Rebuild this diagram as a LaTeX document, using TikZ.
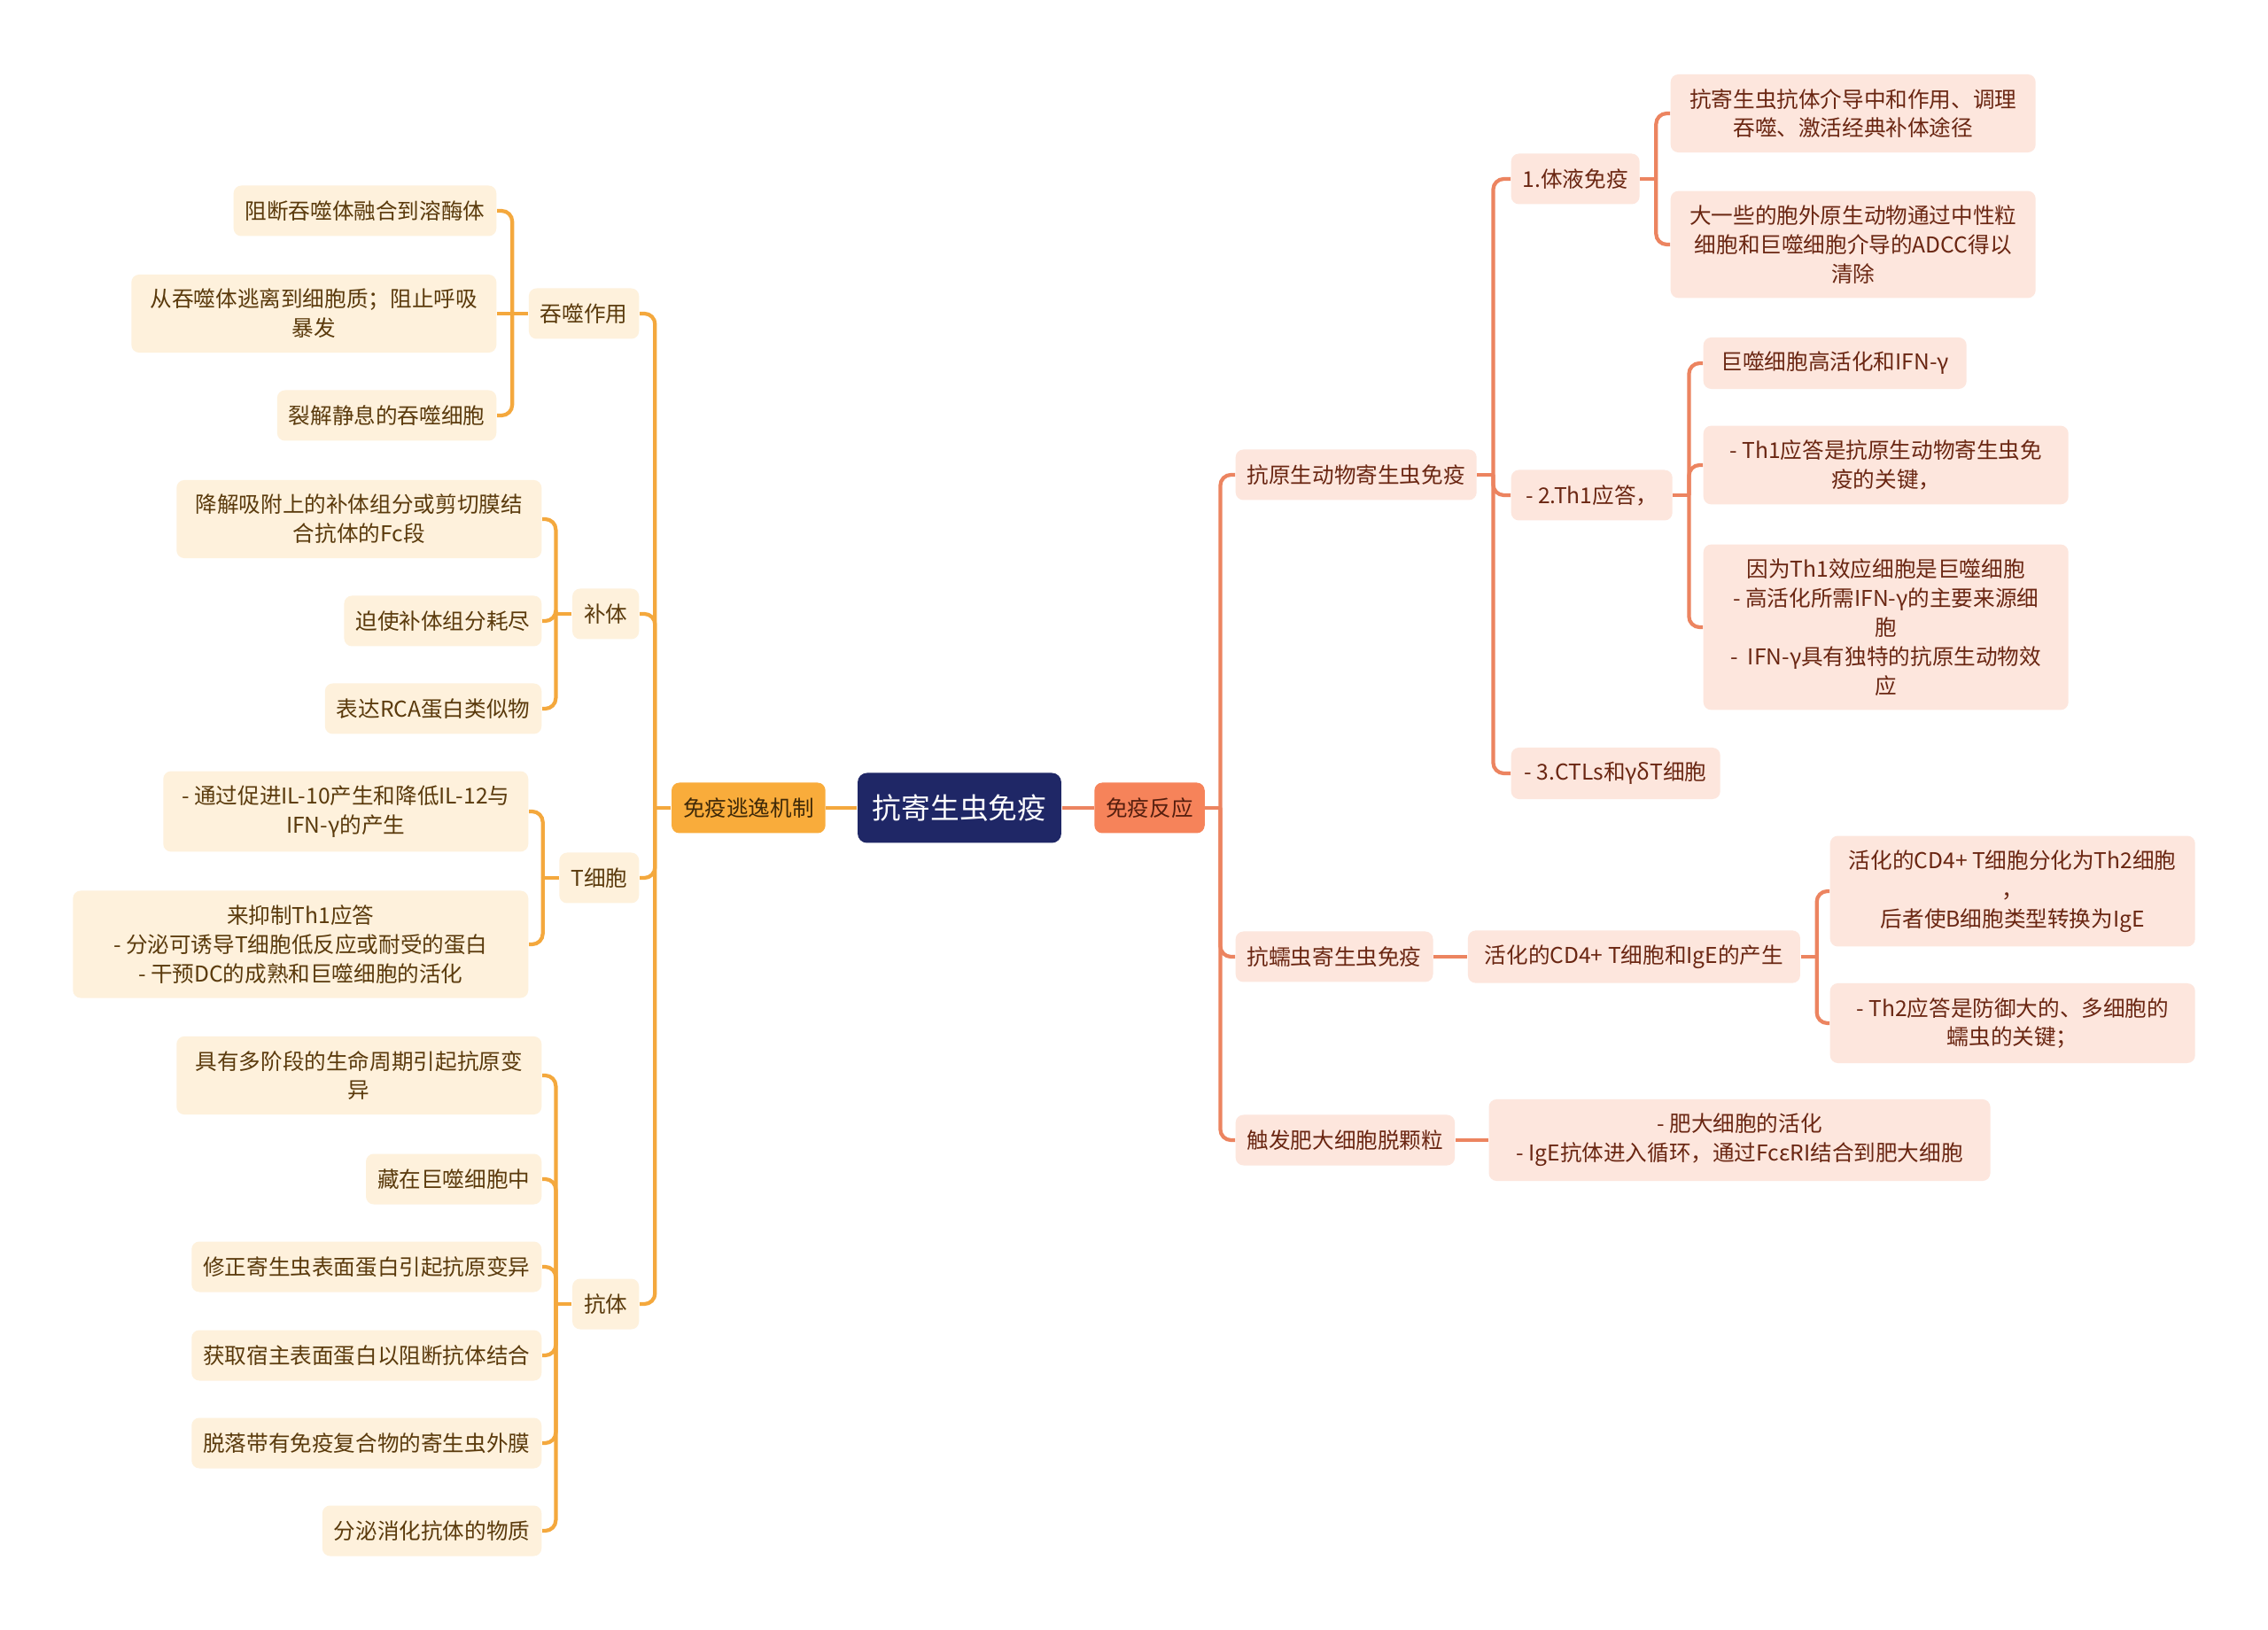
\documentclass[tikz,border=0pt]{standalone}
\usepackage{fontspec}
\setmainfont{Noto Sans CJK SC}
\usepackage{xcolor}
\usetikzlibrary{positioning}

\definecolor{rootblue}{HTML}{1F2766}
\definecolor{escorange}{HTML}{F9AC3B}
\definecolor{esclight}{HTML}{FEF1DC}
\definecolor{esctext}{HTML}{5A3A0C}
\definecolor{escline}{HTML}{F4A83D}
\definecolor{respcoral}{HTML}{F6835A}
\definecolor{resplight}{HTML}{FDE6DD}
\definecolor{resptext}{HTML}{6A2612}
\definecolor{respline}{HTML}{EC8460}

\begin{document}
\begin{tikzpicture}[
    x=1cm, y=1cm,
    node distance=0.18cm,
    root/.style={
        rectangle,
        fill=rootblue,
        text=white,
        rounded corners=3pt,
        inner xsep=4.8pt,
        minimum height=0.79cm,
        font=\fontsize{9.3pt}{11pt}\selectfont
    },
    topic/.style={
        rectangle,
        rounded corners=2.5pt,
        align=center,
        inner xsep=0.13cm,
        inner ysep=4.6pt,
        minimum height=0.57cm,
        font=\fontsize{7pt}{9.35pt}\selectfont
    },
    escmain/.style={topic, fill=escorange, text=esctext!70!black},
    respmain/.style={topic, fill=respcoral, text=resptext!80!black},
    escnode/.style={topic, fill=esclight, text=esctext},
    respnode/.style={topic, fill=resplight, text=resptext},
    wide/.style={minimum width=4.12cm},
    escwire/.style={draw=escline, line width=1.2pt, rounded corners=0.12cm},
    respwire/.style={draw=respline, line width=1.2pt, rounded corners=0.12cm}
]

\fill[white] (0,0) rectangle (25.6,-18.4);

\node[root] (root) at (10.83,-9.12) {抗寄生虫免疫};
\node[escmain, left=0.35cm of root] (escape) {免疫逃逸机制};
\node[respmain, right=0.36cm of root] (resp) {免疫反应};

% escape side
\node[escnode, anchor=east] (phago) at (7.22,-3.54) {吞噬作用};
\node[escnode, anchor=east] (compl) at (7.22,-6.93) {补体};
\node[escnode, anchor=east] (tcell) at (7.22,-9.91) {T细胞};
\node[escnode, anchor=east] (antib) at (7.22,-14.72) {抗体};

\node[escnode, anchor=east] (phagoa) at (5.61,-2.38) {阻断吞噬体融合到溶酶体};
\node[escnode, wide, anchor=east] (phagob) at (5.61,-3.54) {从吞噬体逃离到细胞质；阻止呼吸\\暴发};
\node[escnode, anchor=east] (phagoc) at (5.61,-4.69) {裂解静息的吞噬细胞};

\node[escnode, wide, anchor=east] (compla) at (6.12,-5.86) {降解吸附上的补体组分或剪切膜结\\合抗体的Fc段};
\node[escnode, anchor=east] (complb) at (6.12,-7.01) {迫使补体组分耗尽};
\node[escnode, anchor=east] (complc) at (6.12,-8.00) {表达RCA蛋白类似物};

\node[escnode, wide, anchor=east] (tcella) at (5.97,-9.16) {- 通过促进IL-10产生和降低IL-12与\\IFN-γ的产生};
\node[escnode, minimum width=5.14cm, anchor=east] (tcellb) at (5.97,-10.66) {来抑制Th1应答\\- 分泌可诱导T细胞低反应或耐受的蛋白\\- 干预DC的成熟和巨噬细胞的活化};

\node[escnode, wide, anchor=east] (antiba) at (6.12,-12.14) {具有多阶段的生命周期引起抗原变\\异};
\node[escnode, anchor=east] (antibb) at (6.12,-13.31) {藏在巨噬细胞中};
\node[escnode, anchor=east] (antibc) at (6.12,-14.30) {修正寄生虫表面蛋白引起抗原变异};
\node[escnode, anchor=east] (antibd) at (6.12,-15.30) {获取宿主表面蛋白以阻断抗体结合};
\node[escnode, anchor=east] (antibe) at (6.12,-16.29) {脱落带有免疫复合物的寄生虫外膜};
\node[escnode, anchor=east] (antibf) at (6.12,-17.28) {分泌消化抗体的物质};

% response side
\node[respnode, anchor=west] (proto) at (13.94,-5.36) {抗原生动物寄生虫免疫};
\node[respnode, anchor=west] (helm) at (13.94,-10.80) {抗蠕虫寄生虫免疫};
\node[respnode, anchor=west] (mast) at (13.94,-12.87) {触发肥大细胞脱颗粒};

\node[respnode, anchor=west] (humor) at (17.05,-2.02) {1.体液免疫};
\node[respnode, minimum width=1.82cm, anchor=west] (thone) at (17.05,-5.59) {- 2.Th1应答，};
\node[respnode, minimum width=2.36cm, anchor=west] (ctl) at (17.05,-8.73) {- 3.CTLs和γδT细胞};

\node[respnode, wide, anchor=west] (humora) at (18.85,-1.28) {抗寄生虫抗体介导中和作用、调理\\吞噬、激活经典补体途径};
\node[respnode, wide, anchor=west] (humorb) at (18.85,-2.76) {大一些的胞外原生动物通过中性粒\\细胞和巨噬细胞介导的ADCC得以\\清除};

\node[respnode, minimum width=2.97cm, anchor=west] (thonea) at (19.22,-4.10) {巨噬细胞高活化和IFN-γ};
\node[respnode, wide, anchor=west] (thoneb) at (19.22,-5.25) {- Th1应答是抗原生动物寄生虫免\\疫的关键，};
\node[respnode, wide, anchor=west] (thonec) at (19.22,-7.08) {因为Th1效应细胞是巨噬细胞\\- 高活化所需IFN-γ的主要来源细\\胞\\-~~IFN-γ具有独特的抗原生动物效\\应};

\node[respnode, minimum width=3.75cm, right=0.38cm of helm] (cdfour) {活化的CD4+ T细胞和IgE的产生};
\node[respnode, wide, anchor=west] (cdfoura) at (20.65,-10.06) {活化的CD4+ T细胞分化为Th2细胞\\，\\后者使B细胞类型转换为IgE};
\node[respnode, wide, anchor=west] (cdfourb) at (20.65,-11.55) {- Th2应答是防御大的、多细胞的\\蠕虫的关键；};

\node[respnode, minimum width=5.66cm, right=0.37cm of mast] (mastact) {- 肥大细胞的活化\\- IgE抗体进入循环，通过FcεRI结合到肥大细胞};

% forks
\coordinate[left=of escape] (escfork);
\coordinate[left=of phago] (phagofork);
\coordinate[left=of compl] (complfork);
\coordinate[left=of tcell] (tcellfork);
\coordinate[left=of antib] (antibfork);
\coordinate[right=0.17cm of resp] (respfork);
\coordinate[right=of proto] (protofork);
\coordinate[right=of humor] (humorfork);
\coordinate[right=of thone] (thonefork);
\coordinate[right=of cdfour] (cdfourfork);

\draw[escwire] (root) -- (escape);
\draw[escwire] (escape) -- (escfork);
\draw[escwire] (escfork) |- (phago);
\draw[escwire] (escfork) |- (compl);
\draw[escwire] (escfork) |- (tcell);
\draw[escwire] (escfork) |- (antib);

\draw[escwire] (phago) -- (phagofork);
\draw[escwire] (phagofork) |- (phagoa);
\draw[escwire] (phagofork) -- (phagob);
\draw[escwire] (phagofork) |- (phagoc);

\draw[escwire] (compl) -- (complfork);
\draw[escwire] (complfork) |- (compla);
\draw[escwire] (complfork) |- (complb);
\draw[escwire] (complfork) |- (complc);

\draw[escwire] (tcell) -- (tcellfork);
\draw[escwire] (tcellfork) |- (tcella);
\draw[escwire] (tcellfork) |- (tcellb);

\draw[escwire] (antib) -- (antibfork);
\foreach \leaf in {antiba,antibb,antibc,antibd,antibe,antibf}
    \draw[escwire] (antibfork) |- (\leaf);

\draw[respwire] (root) -- (resp);
\draw[respwire] (resp) -- (respfork);
\draw[respwire] (respfork) |- (proto);
\draw[respwire] (respfork) |- (helm);
\draw[respwire] (respfork) |- (mast);

\draw[respwire] (proto) -- (protofork);
\draw[respwire] (protofork) |- (humor);
\draw[respwire] (protofork) |- (thone);
\draw[respwire] (protofork) |- (ctl);

\draw[respwire] (humor) -- (humorfork);
\draw[respwire] (humorfork) |- (humora);
\draw[respwire] (humorfork) |- (humorb);

\draw[respwire] (thone) -- (thonefork);
\draw[respwire] (thonefork) |- (thonea);
\draw[respwire] (thonefork) |- (thoneb);
\draw[respwire] (thonefork) |- (thonec);

\draw[respwire] (helm) -- (cdfour);
\draw[respwire] (cdfour) -- (cdfourfork);
\draw[respwire] (cdfourfork) |- (cdfoura);
\draw[respwire] (cdfourfork) |- (cdfourb);

\draw[respwire] (mast) -- (mastact);

\end{tikzpicture}
\end{document}
